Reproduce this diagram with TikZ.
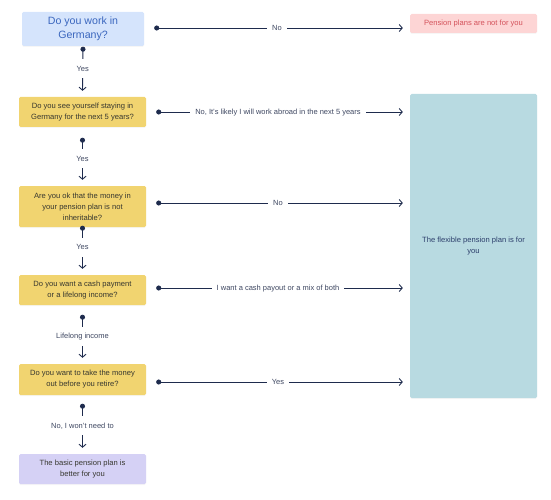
\documentclass[tikz,border=0pt]{standalone}
\usepackage{fontspec}
\setmainfont{Liberation Sans}
\usetikzlibrary{arrows.meta,shadows}
\definecolor{askblue}{HTML}{D5E4FC}
\definecolor{askbluetext}{HTML}{3A66BE}
\definecolor{askyellow}{HTML}{F1D470}
\definecolor{basicpurple}{HTML}{D5D1F5}
\definecolor{notpink}{HTML}{FDD5D5}
\definecolor{notpinktext}{HTML}{D4525B}
\definecolor{flexteal}{HTML}{B8DAE1}
\definecolor{flextext}{HTML}{2C3E6B}
\definecolor{boxtext}{HTML}{37372F}
\definecolor{linenavy}{HTML}{1E2B4D}
\definecolor{lbltext}{HTML}{3F4862}
\begin{document}
\begin{tikzpicture}[x=1pt,y=-1pt]
    \tikzset{% styles for boxes and arrows
    box/.style={rectangle,rounded corners=1.5pt,minimum width=127pt,align=center,
      font=\fontsize{7.6}{11}\selectfont,text=boxtext,
      drop shadow={shadow xshift=0pt,shadow yshift=-1pt,opacity=0.07}},
    ask/.style={box,fill=askyellow},
    start/.style={box,fill=askblue,text=askbluetext,minimum width=122pt,minimum height=34pt,
      font=\fontsize{10.6}{14}\selectfont},
    basic/.style={box,fill=basicpurple,minimum height=30pt},
    notfor/.style={box,fill=notpink,text=notpinktext,minimum height=19pt},
    flex/.style={box,fill=flexteal,text=flextext,minimum height=304pt},
    flow/.style={draw=linenavy,line width=0.9pt,{Circle[length=5pt]}-{Straight Barb[length=3pt,width=7pt]}},
    hlbl/.style={fill=white,text=lbltext,font=\fontsize{7.5}{8}\selectfont,inner xsep=5pt,inner ysep=1pt,
      text height=5.6pt,text depth=0.4pt},
    vlbl/.style={fill=white,text=lbltext,font=\fontsize{7.5}{8}\selectfont,inner xsep=2pt,inner ysep=6pt,
      text height=5.6pt,text depth=1pt},
    }
    \useasboundingbox (0,0) rectangle (551,500);

    % Nodes
    \node[start] (q1) at (83,29) {Do you work in\\Germany?};
    \node[ask,minimum height=30pt] (q2) at (82.5,112) {Do you see yourself staying in\\Germany for the next 5 years?};
    \node[ask,minimum height=41pt] (q3) at (82.5,206.5) {Are you ok that the money in\\your pension plan is not\\inheritable?};
    \node[ask,minimum height=30pt] (q4) at (82.5,290) {Do you want a cash payment\\or a lifelong income?};
    \node[ask,minimum height=31pt] (q5) at (82.5,379.5) {Do you want to take the money\\out before you retire?};
    \node[basic] (basicplan) at (82.5,469) {The basic pension plan is\\better for you};
    \node[notfor] (notforyou) at (473.5,23.5) {Pension plans are not for you};
    \node[flex] (flexplan) at (473.5,246) {The flexible pension plan is for\\you};

    %Edges
    \draw[flow] ([yshift=-0.5pt]q1.south) -- node[vlbl] {Yes} ([yshift=6pt]q2.north);
    \draw[flow] ([yshift=-10.5pt]q2.south) -- node[vlbl] {Yes} ([yshift=6pt]q3.north);
    \draw[flow] ([yshift=1.5pt]q3.south) -- node[vlbl] {Yes} ([yshift=6pt]q4.north);
    \draw[flow] ([yshift=-9.5pt]q4.south) -- node[vlbl] {Lifelong income} ([yshift=6pt]q5.north);
    \draw[flow] ([yshift=-8.5pt]q5.south) -- node[vlbl] {No, I won’t need to} ([yshift=6pt]basicplan.north);

    \draw[flow,shorten <=10pt,shorten >=7pt] ([yshift=1pt]q1.east) -- node[hlbl] {No} ([yshift=1pt]notforyou.west |- q1.east);
    \draw[flow,shorten <=10pt,shorten >=7pt] (q2.east) -- node[hlbl] {No, It’s likely I will work abroad in the next 5 years} (flexplan.west |- q2.east);
    \draw[flow,shorten <=10pt,shorten >=7pt] ([yshift=3.5pt]q3.east) -- node[hlbl] {No} ([yshift=3.5pt]flexplan.west |- q3.east);
    \draw[flow,shorten <=10pt,shorten >=7pt] ([yshift=2pt]q4.east) -- node[hlbl] {I want a cash payout or a mix of both} ([yshift=2pt]flexplan.west |- q4.east);
    \draw[flow,shorten <=10pt,shorten >=7pt] ([yshift=-2.5pt]q5.east) -- node[hlbl] {Yes} ([yshift=-2.5pt]flexplan.west |- q5.east);
\end{tikzpicture}
\end{document}
